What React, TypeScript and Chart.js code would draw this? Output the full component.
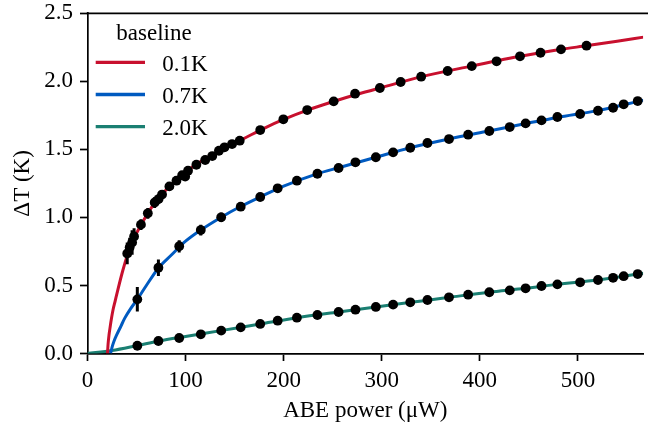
import React, { useEffect, useRef } from "react";
import { Chart, registerables } from "chart.js";

Chart.register(...registerables);

const FONT = "'Liberation Serif', 'DejaVu Serif', serif";
const RED = "#C8102E";
const BLUE = "#005AC0";
const GREEN = "#1A7F72";

// ---- measured data: baseline 0.1 K ----
const powerRed = [40.5, 43, 45.5, 47.5, 54.5, 61.5, 68.5, 72.5, 76, 83.5, 90.7, 96.5, 99.6, 102.5, 111, 120, 127.2, 134, 139.7, 147.4, 155.2, 176.1, 199.7, 224, 251, 272.8, 298.1, 319.3, 340.2, 367.2, 391.8, 417.1, 441, 461.9, 482.8, 508.8];
const dTRed = [0.735, 0.78, 0.815, 0.86, 0.947, 1.03, 1.11, 1.135, 1.168, 1.228, 1.27, 1.31, 1.3, 1.343, 1.387, 1.422, 1.451, 1.49, 1.515, 1.539, 1.564, 1.642, 1.721, 1.789, 1.853, 1.909, 1.951, 1.995, 2.034, 2.076, 2.112, 2.147, 2.184, 2.21, 2.235, 2.262];
const errRed = [0.08, 0.07, 0.09, 0.06, 0.04, 0.04, 0.04, 0.035, 0.03, 0.03, 0.025, 0.025, 0.025, 0.02, 0.02, 0.02, 0.015, 0.015, 0.015, 0.015, 0.015, 0.015, 0.015, 0.015, 0.015, 0.015, 0.015, 0.015, 0.015, 0.015, 0.015, 0.015, 0.015, 0.015, 0.015, 0.015];

// ---- measured data: baselines 0.7 K and 2.0 K (same powers) ----
const powerHigh = [50.8, 72.3, 93.5, 115.5, 136.3, 156.2, 176.1, 193.9, 213.5, 234.4, 256, 273.2, 294, 311.6, 329.1, 346.6, 368.6, 388.1, 409.7, 430.5, 446.7, 462.9, 479.1, 502.3, 520.5, 535.9, 546.7, 561];
const dTBlue = [0.398, 0.63, 0.788, 0.907, 1.001, 1.079, 1.15, 1.214, 1.27, 1.321, 1.363, 1.405, 1.442, 1.478, 1.512, 1.547, 1.576, 1.608, 1.635, 1.664, 1.691, 1.713, 1.738, 1.76, 1.784, 1.806, 1.831, 1.855];
const errBlue = [0.09, 0.06, 0.045, 0.04, 0.035, 0.03, 0.02, 0.02, 0.02, 0.02, 0.02, 0.02, 0.02, 0.02, 0.02, 0.02, 0.02, 0.02, 0.02, 0.02, 0.02, 0.02, 0.02, 0.02, 0.02, 0.02, 0.02, 0.02];
const dTGreen = [0.057, 0.092, 0.114, 0.141, 0.168, 0.192, 0.217, 0.241, 0.263, 0.283, 0.305, 0.322, 0.342, 0.359, 0.376, 0.393, 0.413, 0.432, 0.45, 0.464, 0.479, 0.496, 0.508, 0.523, 0.54, 0.556, 0.568, 0.584];

// ---- fit curves ----
const fitPowerRed = [20.4, 21, 22, 23, 24.5, 26, 28, 31, 36, 41, 47, 55, 65, 76, 90, 105, 120, 140, 160, 180, 200, 225, 250, 275, 300, 340, 390, 440, 480, 510, 540, 567];
const fitRed = [0, 0.07, 0.14, 0.19, 0.26, 0.32, 0.38, 0.47, 0.61, 0.73, 0.84, 0.95, 1.07, 1.17, 1.27, 1.36, 1.43, 1.51, 1.582, 1.655, 1.72, 1.79, 1.85, 1.905, 1.955, 2.033, 2.11, 2.182, 2.232, 2.263, 2.295, 2.325];
const fitPowerBlue = [23.5, 25, 27, 30, 34, 38, 44, 51, 60, 72, 85, 100, 115, 136, 156, 176, 200, 234, 256, 294, 329, 369, 409, 447, 479, 520, 567];
const fitBlue = [0, 0.045, 0.09, 0.14, 0.2, 0.26, 0.33, 0.4, 0.5, 0.625, 0.72, 0.825, 0.905, 1.0, 1.08, 1.15, 1.23, 1.32, 1.365, 1.442, 1.512, 1.577, 1.635, 1.69, 1.735, 1.785, 1.862];
const fitPowerGreen = [0, 25, 50, 72, 100, 136, 176, 214, 256, 294, 330, 369, 409, 447, 479, 520, 567];
const fitGreen = [0, 0.022, 0.057, 0.09, 0.125, 0.168, 0.217, 0.263, 0.305, 0.342, 0.376, 0.413, 0.45, 0.479, 0.508, 0.54, 0.59];

const xTicks = [0, 100, 200, 300, 400, 500];
const yTicks = [0, 0.5, 1.0, 1.5, 2.0, 2.5];

const toXY = (xs: number[], ys: number[]) => xs.map((x, i) => ({ x, y: ys[i] }));

export default function App() {
  const ref = useRef<HTMLCanvasElement>(null);

  useEffect(() => {
    const canvas = ref.current!;

    const errorBars = {
      id: "errorBars",
      afterDatasetsDraw(chart: any) {
        const ctx = chart.ctx;
        const ys = chart.scales.y;
        ctx.save();
        ctx.beginPath();
        ctx.rect(chart.chartArea.left, chart.chartArea.top, chart.chartArea.right - chart.chartArea.left, chart.chartArea.bottom - chart.chartArea.top);
        ctx.clip();
        ctx.strokeStyle = "#000";
        ctx.lineWidth = 3;
        chart.data.datasets.forEach((ds: any, di: number) => {
          if (!ds.errors) return;
          const meta = chart.getDatasetMeta(di);
          meta.data.forEach((pt: any, i: number) => {
            const v = ds.data[i].y;
            const e = ds.errors[i];
            ctx.beginPath();
            ctx.moveTo(pt.x, ys.getPixelForValue(v - e));
            ctx.lineTo(pt.x, ys.getPixelForValue(v + e));
            ctx.stroke();
          });
        });
        ctx.restore();
      },
    };

    const frame = {
      id: "frame",
      afterDraw(chart: any) {
        const ctx = chart.ctx;
        const a = chart.chartArea;
        ctx.save();
        ctx.strokeStyle = "#000";
        ctx.lineWidth = 1.7;
        ctx.beginPath();
        ctx.moveTo(a.left - 0.85, a.top);
        ctx.lineTo(chart.width, a.top);
        ctx.stroke();
        ctx.restore();
      },
    };

    const legend = {
      id: "customLegend",
      afterDraw(chart: any) {
        const ctx = chart.ctx;
        ctx.save();
        ctx.font = `23px ${FONT}`;
        ctx.fillStyle = "#000";
        ctx.textAlign = "center";
        ctx.textBaseline = "alphabetic";
        ctx.fillText("baseline", 154, 39.5);
        const curves = chart.data.datasets.filter((d: any) => d.isFit);
        curves.forEach((d: any, i: number) => {
          const y = 62.3 + i * 32.2;
          ctx.strokeStyle = d.borderColor;
          ctx.lineWidth = 3.3;
          ctx.beginPath();
          ctx.moveTo(95.7, y);
          ctx.lineTo(145, y);
          ctx.stroke();
          ctx.textAlign = "left";
          ctx.fillText(d.label, 162.3, 70.7 + i * 32.2);
        });
        ctx.restore();
      },
    };

    const fitStyle = {
      type: "line" as const,
      pointRadius: 0,
      borderWidth: 3,
      cubicInterpolationMode: "monotone" as const,
      fill: false,
      order: 3,
      isFit: true,
    };
    const dotStyle = {
      type: "line" as const,
      showLine: false,
      pointRadius: 4.9,
      pointHoverRadius: 4.9,
      pointBackgroundColor: "#000",
      pointBorderWidth: 0,
      borderColor: "#000",
      order: 1,
    };

    const chart = new Chart(canvas, {
      type: "line",
      data: {
        datasets: [
          { ...fitStyle, label: "0.1K", data: toXY(fitPowerRed, fitRed), borderColor: RED },
          { ...fitStyle, label: "0.7K", data: toXY(fitPowerBlue, fitBlue), borderColor: BLUE },
          { ...fitStyle, label: "2.0K", data: toXY(fitPowerGreen, fitGreen), borderColor: GREEN },
          { ...dotStyle, label: "data 0.1K", data: toXY(powerRed, dTRed), errors: errRed },
          { ...dotStyle, label: "data 0.7K", data: toXY(powerHigh, dTBlue), errors: errBlue },
          { ...dotStyle, label: "data 2.0K", data: toXY(powerHigh, dTGreen) },
        ] as any,
      },
      options: {
        responsive: false,
        animation: false,
        devicePixelRatio: 1,
        layout: { padding: { top: 13.3, right: 0, left: 0, bottom: 0 } },
        plugins: { legend: { display: false }, tooltip: { enabled: false } },
        scales: {
          x: {
            type: "linear",
            min: 0,
            max: 566.5,
            border: { display: true, color: "#000", width: 1.7 },
            grid: { display: true, drawOnChartArea: false, drawTicks: true, tickLength: 7.5, tickWidth: 1.7, tickColor: "#000" },
            afterBuildTicks: (s: any) => { s.ticks = xTicks.map((v) => ({ value: v })); },
            ticks: { color: "#000", font: { family: FONT, size: 23 }, padding: 6, maxRotation: 0, autoSkip: false, callback: (v: any) => String(v) },
            title: { display: true, text: "ABE power (μW)", color: "#000", font: { family: FONT, size: 23 }, padding: { top: 0, bottom: 1 } },
            afterFit: (s: any) => { s.height = 72.5; s.paddingLeft = 0; s.paddingRight = 0; },
          },
          y: {
            type: "linear",
            min: 0,
            max: 2.5,
            border: { display: true, color: "#000", width: 1.7 },
            grid: { display: true, drawOnChartArea: false, drawTicks: true, tickLength: 7.5, tickWidth: 1.7, tickColor: "#000" },
            afterBuildTicks: (s: any) => { s.ticks = yTicks.map((v) => ({ value: v })); },
            ticks: { color: "#000", font: { family: FONT, size: 23 }, padding: 7, autoSkip: false, callback: (v: any) => Number(v).toFixed(1) },
            title: { display: true, text: "ΔT (K)", color: "#000", font: { family: FONT, size: 23 }, padding: { top: 9, bottom: 0 } },
            afterFit: (s: any) => { s.width = 87.5; s.paddingTop = 0; s.paddingBottom = 0; },
          },
        },
      },
      plugins: [errorBars, frame, legend],
    });

    return () => chart.destroy();
  }, []);

  return (
    <div style={{ position: "fixed", left: 0, top: 0, width: 648, height: 426, background: "#fff" }}>
      <canvas ref={ref} width={648} height={426} style={{ display: "block", width: 648, height: 426 }} />
    </div>
  );
}
